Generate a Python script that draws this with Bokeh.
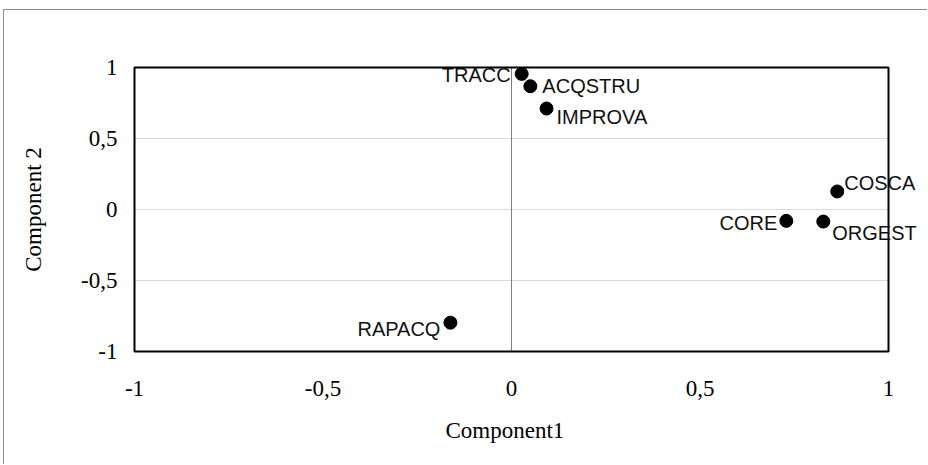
from bokeh.plotting import figure
from bokeh.models import Range1d, FixedTicker, ColumnDataSource, Title
from bokeh.core.properties import value
from bokeh.embed import file_html
from bokeh.resources import INLINE

# ---- data ----
names = ["TRACC", "ACQSTRU", "IMPROVA", "COSCA", "CORE", "ORGEST", "RAPACQ"]
comp1 = [0.027, 0.050, 0.093, 0.864, 0.729, 0.827, -0.162]
comp2 = [0.955, 0.868, 0.711, 0.127, -0.080, -0.085, -0.797]
tick_values = [-1, -0.5, 0, 0.5, 1]
tick_labels = ["-1", "-0,5", "0", "0,5", "1"]
x_title = "Component1"
y_title = "Component 2"

# ---- label placement (style) ----
label_align = ["right", "left", "left", "left", "right", "left", "right"]
label_dx = [-11, 12, 10, 7, -9, 9, -10]
label_dy = [1, 0, 8, -8, 2, 11, 6]

src = ColumnDataSource(dict(x=comp1, y=comp2, name=names,
                            align=label_align, dx=label_dx, dy=label_dy))

lo, hi = tick_values[0], tick_values[-1]
# frame is a little larger than the plot box so that labels are not clipped
px_x = (hi - lo) / 754.0
px_y = (hi - lo) / 284.0
x_range = Range1d(lo - 2 * px_x, hi + 38 * px_x)
y_range = Range1d(lo - 2 * px_y, hi + 2 * px_y)

p = figure(width=924, height=455, output_backend="svg", toolbar_location=None,
           x_range=x_range, y_range=y_range,
           min_border_left=128, min_border_right=2,
           min_border_top=55, min_border_bottom=112)
p.styles = {"margin-left": "3px", "margin-top": "9px",
            "border-top": "1px solid #8a8a8a", "border-left": "1px solid #8a8a8a"}
p.background_fill_color = "white"
p.border_fill_color = "white"
p.outline_line_color = None

overrides = {v: l for v, l in zip(tick_values, tick_labels)}
for ax in (p.xaxis[0], p.yaxis[0]):
    ax.ticker = FixedTicker(ticks=tick_values)
    ax.major_label_overrides = overrides
    ax.axis_line_color = None
    ax.major_tick_line_color = None
    ax.minor_tick_line_color = None
    ax.major_label_text_font = "Liberation Serif"
    ax.major_label_text_font_size = "23px"
    ax.major_label_text_color = "black"
    ax.axis_label_text_font = "Liberation Serif"
    ax.axis_label_text_font_size = "23px"
    ax.axis_label_text_font_style = "normal"
    ax.axis_label_text_color = "black"

p.yaxis.axis_label = y_title
p.xaxis.major_label_standoff = 21
p.yaxis.major_label_standoff = 9
p.yaxis.axis_label_standoff = 32

# x title centred under the plot box (not under the wider frame)
p.add_layout(Title(text=x_title, align="left", offset=313, standoff=34,
                   text_font="Liberation Serif", text_font_size="23px",
                   text_font_style="normal", text_color="black"), "below")

p.grid.grid_line_color = None

# horizontal gridlines inside the plot box
inner = [t for t in tick_values if lo < t < hi]
p.segment(x0=[lo] * len(inner), x1=[hi] * len(inner), y0=inner, y1=inner,
          line_color="#d9d9d9", line_width=1)
# vertical axis line at x = 0
p.segment(x0=[0], x1=[0], y0=[lo], y1=[hi], line_color="#808080", line_width=1)
# plot box
p.quad(left=[lo], right=[hi], bottom=[lo], top=[hi], fill_color=None,
       line_color="black", line_width=2)

p.scatter("x", "y", source=src, size=13, color="black")
p.text("x", "y", text="name", source=src, text_align="align", text_baseline="middle",
       x_offset="dx", y_offset="dy", text_font=value("Liberation Sans"),
       text_font_size="20px", text_color="#111111")

open("out.html", "w").write(file_html(p, INLINE))
